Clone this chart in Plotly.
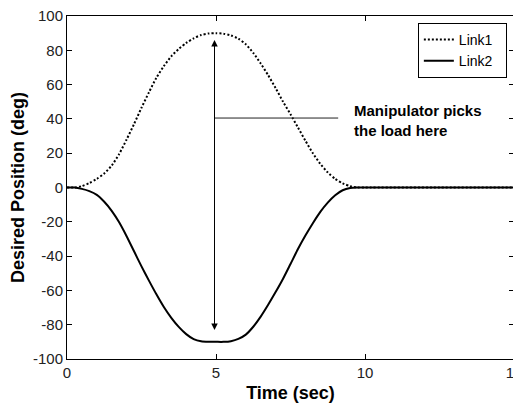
import plotly.graph_objects as go

# time samples (sec) shared by both links
time_s = [0, 0.25, 0.5, 0.75, 1.0, 1.25, 1.5, 1.75, 2.0, 2.25, 2.5, 2.75, 3.0, 3.25,
          3.5, 3.75, 4.0, 4.25, 4.5, 4.75, 5.0, 5.25, 5.5, 5.75, 6.0, 6.25, 6.5,
          6.75, 7.0, 7.25, 7.5, 7.75, 8.0, 8.25, 8.5, 8.75, 9.0, 9.25, 9.5, 9.75,
          10.0, 12.5, 15.0]

# Link1 (dotted)
link1_deg = [0, 0, 0.8, 2.6, 5.0, 8.2, 12.8, 19.5, 28, 37, 46.5, 55.5, 64, 70.8,
             76.5, 80.8, 84.3, 87, 88.9, 89.8, 90, 89.7, 88.7, 86.8, 83.5, 78.5, 72.3,
             65.5, 58, 50, 42.7, 35, 27.3, 20, 13.8, 8.8, 5, 2.4, 0.8, 0,
             0, 0, 0]

# Link2 (solid)
link2_deg = [0, 0, -0.8, -2.1, -4.3, -8.3, -13.6, -20.3, -28.4, -37.2, -46, -54.3, -62.3, -69.7,
             -76, -81.3, -85.5, -88.4, -89.7, -90, -90, -90, -89.6, -88.3, -85.8, -81.2, -75.3,
             -68.4, -61, -53.2, -44.6, -35.9, -28, -20.8, -14.2, -8.8, -4.5, -1.6, -0.3, 0,
             0, 0, 0]

x_ticks = [0, 5, 10, 15]
y_ticks = [-100, -80, -60, -40, -20, 0, 20, 40, 60, 80, 100]
y_tick_labels = ['-100', '-80', '-60', '-40', '-20', '0', '20', '40', '60', '80', '100']

# annotation geometry (data units)
arrow_x = 4.95
arrow_top, arrow_bottom = 86, -84
pick_y = 40.5
pick_x_end = 9.1

FONT = "Liberation Sans, Arial, sans-serif"
PAD = '\u00a0' * 2  # widen legend box a bit

fig = go.Figure()

fig.add_trace(go.Scatter(
    x=time_s, y=link1_deg, name='Link1' + PAD, mode='lines',
    line=dict(color='black', width=2, dash='2px,2px', shape='spline', smoothing=0.6)
))
fig.add_trace(go.Scatter(
    x=time_s, y=link2_deg, name='Link2' + PAD, mode='lines',
    line=dict(color='black', width=2, shape='spline', smoothing=0.6)
))

# double-headed arrow at t = 5
fig.add_annotation(
    x=arrow_x, y=arrow_top, ax=arrow_x, ay=arrow_bottom,
    xref='x', yref='y', axref='x', ayref='y',
    text='', showarrow=True, arrowside='end+start',
    arrowhead=2, arrowsize=1.3, arrowwidth=1, arrowcolor='black'
)

# horizontal pointer line
fig.add_shape(type='line', x0=arrow_x, x1=pick_x_end, y0=pick_y, y1=pick_y,
              xref='x', yref='y', line=dict(color='#222', width=1))

fig.add_annotation(
    x=9.58, y=39, xref='x', yref='y', xanchor='left', yanchor='middle',
    text='<b>Manipulator picks<br>the load here</b>', showarrow=False, align='left',
    font=dict(family=FONT, size=15, color='black')
)

axis_common = dict(
    showline=True, mirror='ticks', linecolor='black', linewidth=1, automargin=False,
    ticks='inside', ticklen=5, tickcolor='black', showgrid=False, zeroline=False,
    ticklabeloverflow='allow', tickfont=dict(family=FONT, size=15, color='#222')
)

# page body has an 8px margin, so the figure starts at (8, 8) in the window
fig.update_layout(
    width=521, height=395,
    margin=dict(l=59, r=15, t=8, b=44),
    paper_bgcolor='white', plot_bgcolor='white',
    font=dict(family=FONT, color='black'),
    xaxis=dict(range=[0, 15], tickvals=x_ticks,
               title=dict(text='<b>Time (sec)</b>', font=dict(family=FONT, size=18), standoff=7),
               **axis_common),
    yaxis=dict(range=[-100, 100], tickvals=y_ticks, ticktext=y_tick_labels,
               title=dict(text='<b>Desired Position (deg)</b>', font=dict(family=FONT, size=18), standoff=6),
               **axis_common),
    legend=dict(x=0.984, y=0.98, xanchor='right', yanchor='top',
                bgcolor='white', bordercolor='black', borderwidth=1,
                font=dict(family=FONT, size=14, color='black'), tracegroupgap=0),
    showlegend=True
)

fig.write_html("out.html")
